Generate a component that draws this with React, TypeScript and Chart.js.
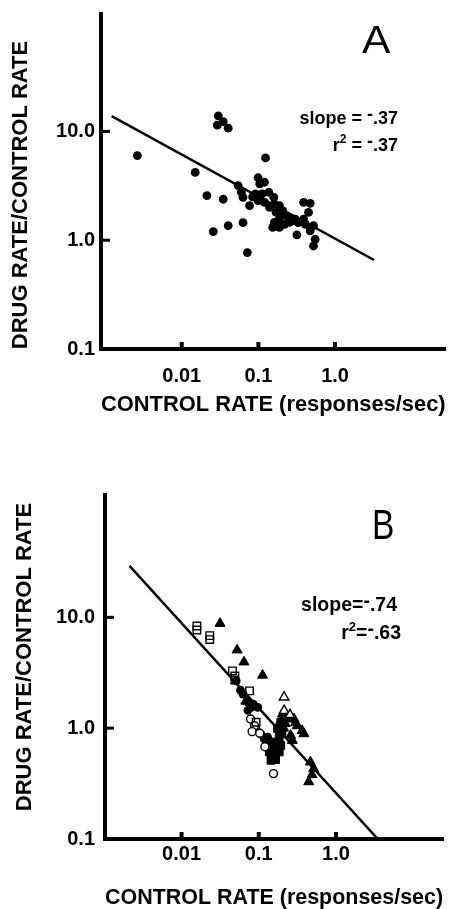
import React, { useEffect, useRef } from 'react';
import { Chart, registerables } from 'chart.js';

Chart.register(...registerables);

const FONT = '"Liberation Sans", Arial, Helvetica, sans-serif';

// ---- shared axis text ----
const xTickValues = [0.01, 0.1, 1];
const xTickLabels = ['0.01', '0.1', '1.0'];
const yTickValues = [0.1, 1, 10];
const yTickLabels = ['0.1', '1.0', '10.0'];
const xAxisTitle = 'CONTROL RATE (responses/sec)';
const yAxisTitle = 'DRUG RATE/CONTROL RATE';

// ---- Panel A data ----
const aControlRate = [
  0.00264, 0.015, 0.0213, 0.0348, 0.0258, 0.0404, 0.063, 0.0718, 0.124,
  0.03, 0.0291, 0.0348, 0.0404, 0.0544, 0.06, 0.063, 0.0769, 0.099, 0.12,
  0.104, 0.092, 0.112, 0.137, 0.159, 0.099, 0.12, 0.162, 0.188, 0.208, 0.17,
  0.248, 0.188, 0.162, 0.154, 0.188, 0.253, 0.22, 0.303, 0.318, 0.389, 0.474,
  0.451, 0.389, 0.41, 0.524, 0.474, 0.551, 0.524, 0.33, 0.14, 0.084, 0.215, 0.27,
];
const aRateRatio = [
  6.0, 4.2, 2.57, 2.38, 1.2, 1.36, 1.45, 0.77, 5.7,
  13.9, 11.4, 12.3, 10.7, 3.18, 2.76, 2.48, 2.08, 3.75, 3.41,
  3.3, 2.67, 2.67, 2.76, 2.48, 2.31, 2.23, 2.15, 2.08, 1.87, 1.8,
  1.62, 1.56, 1.46, 1.31, 1.31, 1.46, 1.4, 1.56, 1.12, 2.23, 2.18,
  1.8, 1.56, 1.4, 1.36, 1.22, 1.02, 0.885, 1.45, 2.0, 2.5, 1.7, 1.5,
];
const aFitControl = [0.00122, 3.23];
const aFitRatio = [13.8, 0.658];
const aSlope = '.37';
const aR2 = '.37';

// ---- Panel B data ----
const bOpenSquareX = [0.0158, 0.0158, 0.0232, 0.0232, 0.0456, 0.049, 0.049, 0.076, 0.0924];
const bOpenSquareY = [8.36, 7.69, 6.84, 6.3, 3.29, 2.96, 2.72, 2.17, 1.13];
const bFilledTriangleX = [
  0.0315, 0.0524, 0.0643, 0.112, 0.203, 0.234, 0.193, 0.286, 0.315, 0.365,
  0.384, 0.259, 0.272, 0.21, 0.466, 0.514, 0.444, 0.49, 0.068, 0.22, 0.3,
];
const bFilledTriangleY = [
  8.8, 5.07, 3.95, 3.0, 1.34, 1.21, 1.17, 1.21, 1.05, 0.95,
  0.89, 0.86, 0.774, 1.0, 0.495, 0.432, 0.328, 0.38, 1.75, 1.1, 1.12,
];
const bOpenTriangleX = [0.213, 0.213, 0.254];
const bOpenTriangleY = [1.9, 1.44, 1.32];
const bOpenCircleX = [0.0783, 0.0881, 0.082, 0.103, 0.12, 0.155];
const bOpenCircleY = [1.21, 1.05, 0.93, 0.9, 0.68, 0.389];
const bFilledCircleX = [
  0.051, 0.0625, 0.0724, 0.0798, 0.097, 0.0724, 0.092, 0.107, 0.13, 0.144,
  0.058, 0.085, 0.118, 0.125,
];
const bFilledCircleY = [
  2.67, 2.03, 1.71, 1.54, 1.54, 1.45, 0.99, 0.88, 0.83, 0.75,
  2.2, 1.65, 0.8, 0.72,
];
const bFilledSquareX = [0.137, 0.159, 0.144, 0.184, 0.193, 0.184, 0.175, 0.193, 0.159, 0.165, 0.2, 0.17];
const bFilledSquareY = [0.61, 0.568, 0.513, 0.61, 0.698, 0.83, 0.99, 1.13, 0.65, 0.52, 0.9, 0.75];
const bFitControl = [0.00212, 3.48];
const bFitRatio = [29.1, 0.1];
const bSlope = '.74';
const bR2 = '.63';

type Run = [string, number, number];

function pts(xs: number[], ys: number[]) {
  return xs.map((x, i) => ({ x, y: ys[i] }));
}

function drawRuns(ctx: CanvasRenderingContext2D, runs: Run[], right: number, baseline: number) {
  let total = 0;
  const widths = runs.map(([t, s]) => {
    ctx.font = `bold ${s}px ${FONT}`;
    const w = ctx.measureText(t).width;
    total += w;
    return w;
  });
  let x = right - total;
  ctx.textAlign = 'left';
  ctx.textBaseline = 'alphabetic';
  runs.forEach(([t, s, r], i) => {
    ctx.font = `bold ${s}px ${FONT}`;
    ctx.fillText(t, x, baseline - r);
    x += widths[i];
  });
}

interface PanelSpec {
  height: number;
  xMin: number;
  xMax: number;
  yMin: number;
  yMax: number;
  yAxisWidth: number;
  xAxisHeight: number;
  padTop: number;
  xTickPad: number;
  yTickPad: number;
  xTitlePadBottom: number;
  xTitleSize: number;
  datasets: any[];
  letter: string;
  letterX: number;
  letterBaseline: number;
  letterSize: number;
  letterScaleX: number;
  yTitleX: number;
  yTitleY: number;
  stats: { runs: Run[]; right: number; baseline: number }[];
}

function buildConfig(spec: PanelSpec): any {
  const decor = {
    id: 'decor',
    afterDraw(chart: any) {
      const ctx: CanvasRenderingContext2D = chart.ctx;
      const { left, bottom } = chart.chartArea;
      const xs = chart.scales.x;
      const ys = chart.scales.y;
      ctx.save();
      ctx.strokeStyle = '#000';
      ctx.fillStyle = '#000';
      ctx.lineCap = 'butt';
      // inward tick marks
      ctx.lineWidth = 4;
      for (const v of xTickValues) {
        const px = xs.getPixelForValue(v);
        ctx.beginPath();
        ctx.moveTo(px, bottom);
        ctx.lineTo(px, bottom - 7);
        ctx.stroke();
      }
      ctx.lineWidth = 3;
      for (const v of yTickValues) {
        if (v <= ys.min * 1.0001) continue;
        const py = ys.getPixelForValue(v);
        ctx.beginPath();
        ctx.moveTo(left, py);
        ctx.lineTo(left + 9, py);
        ctx.stroke();
      }
      // y axis title
      ctx.save();
      ctx.translate(spec.yTitleX, spec.yTitleY);
      ctx.rotate(-Math.PI / 2);
      ctx.font = `bold 22px ${FONT}`;
      ctx.textAlign = 'center';
      ctx.textBaseline = 'middle';
      ctx.fillText(yAxisTitle, 0, 0);
      ctx.restore();
      // panel letter
      ctx.save();
      ctx.translate(spec.letterX, spec.letterBaseline);
      ctx.scale(spec.letterScaleX, 1);
      ctx.font = `normal ${spec.letterSize}px ${FONT}`;
      ctx.textAlign = 'left';
      ctx.textBaseline = 'alphabetic';
      ctx.fillText(spec.letter, 0, 0);
      ctx.restore();
      // stats
      for (const s of spec.stats) drawRuns(ctx, s.runs, s.right, s.baseline);
      ctx.restore();
    },
  };

  const tickFont = { family: FONT, size: 20, weight: 'bold' as const };

  return {
    type: 'scatter',
    data: { datasets: spec.datasets },
    options: {
      animation: false,
      responsive: false,
      devicePixelRatio: 1,
      events: [],
      layout: { padding: { top: spec.padTop, right: 2, bottom: 0, left: 0 } },
      plugins: { legend: { display: false }, tooltip: { enabled: false }, title: { display: false } },
      scales: {
        x: {
          type: 'logarithmic',
          position: 'bottom',
          min: spec.xMin,
          max: spec.xMax,
          afterBuildTicks: (s: any) => {
            s.ticks = xTickValues.map((v) => ({ value: v }));
          },
          afterFit: (s: any) => {
            s.height = spec.xAxisHeight;
            s.paddingLeft = 0;
            s.paddingRight = 0;
            s.paddingTop = 0;
            s.paddingBottom = 0;
          },
          grid: { display: false, drawTicks: false },
          border: { display: true, color: '#000', width: 4 },
          ticks: {
            autoSkip: false,
            maxRotation: 0,
            minRotation: 0,
            padding: spec.xTickPad,
            color: '#000',
            font: tickFont,
            callback: (_v: any, i: number) => xTickLabels[i],
          },
          title: {
            display: true,
            text: xAxisTitle,
            color: '#000',
            font: { family: FONT, size: spec.xTitleSize, weight: 'bold', lineHeight: 1 },
            padding: { top: 0, bottom: spec.xTitlePadBottom },
          },
        },
        y: {
          type: 'logarithmic',
          position: 'left',
          min: spec.yMin,
          max: spec.yMax,
          afterBuildTicks: (s: any) => {
            s.ticks = yTickValues.map((v) => ({ value: v }));
          },
          afterFit: (s: any) => {
            s.width = spec.yAxisWidth;
            s.paddingLeft = 0;
            s.paddingRight = 0;
            s.paddingTop = 0;
            s.paddingBottom = 0;
          },
          grid: { display: false, drawTicks: false },
          border: { display: true, color: '#000', width: 4 },
          ticks: {
            autoSkip: false,
            padding: spec.yTickPad,
            color: '#000',
            font: tickFont,
            callback: (_v: any, i: number) => yTickLabels[i],
          },
          title: { display: false },
        },
      },
    },
    plugins: [decor],
  };
}

const fitLine = (data: any[]) => ({
  type: 'line',
  data,
  borderColor: '#000',
  borderWidth: 2.5,
  pointRadius: 0,
  fill: false,
  showLine: true,
  order: 10,
});

const specA: PanelSpec = {
  height: 450,
  xMin: 0.000885,
  xMax: 27.7,
  yMin: 0.1,
  yMax: 120,
  yAxisWidth: 101,
  xAxisHeight: 101,
  padTop: 14,
  xTickPad: 15,
  yTickPad: 6,
  xTitlePadBottom: 34,
  xTitleSize: 22,
  datasets: [
    fitLine(pts(aFitControl, aFitRatio)),
    {
      data: pts(aControlRate, aRateRatio),
      pointStyle: 'circle',
      pointRadius: 4.4,
      backgroundColor: '#000',
      borderColor: '#000',
      borderWidth: 0,
      order: 0,
    },
  ],
  letter: 'A',
  letterX: 362,
  letterBaseline: 53,
  letterSize: 38,
  letterScaleX: 1.12,
  yTitleX: 21,
  yTitleY: 195,
  stats: [
    { runs: [['slope = ', 18, 0], ['-', 18, 4], [aSlope, 18, 0]], right: 398, baseline: 124 },
    { runs: [['r', 18, 0], ['2', 12, 8], [' = ', 18, 0], ['-', 18, 4], [aR2, 18, 0]], right: 398, baseline: 151 },
  ],
};

const specB: PanelSpec = {
  height: 459,
  xMin: 0.00102,
  xMax: 24.4,
  yMin: 0.1,
  yMax: 127,
  yAxisWidth: 105,
  xAxisHeight: 70,
  padTop: 45,
  xTickPad: 3.5,
  yTickPad: 10,
  xTitlePadBottom: 0,
  xTitleSize: 21.5,
  datasets: [
    fitLine(pts(bFitControl, bFitRatio)),
    {
      data: pts(bFilledSquareX, bFilledSquareY),
      pointStyle: 'rect',
      pointRadius: 5.5,
      backgroundColor: '#000',
      borderColor: '#000',
      borderWidth: 1,
      order: 5,
    },
    {
      data: pts(bFilledCircleX, bFilledCircleY),
      pointStyle: 'circle',
      pointRadius: 4.4,
      backgroundColor: '#000',
      borderColor: '#000',
      borderWidth: 0,
      order: 4,
    },
    {
      data: pts(bFilledTriangleX, bFilledTriangleY),
      pointStyle: 'triangle',
      pointRadius: 5.8,
      backgroundColor: '#000',
      borderColor: '#000',
      borderWidth: 1,
      order: 3,
    },
    {
      data: pts(bOpenTriangleX, bOpenTriangleY),
      pointStyle: 'triangle',
      pointRadius: 5.5,
      backgroundColor: '#fff',
      borderColor: '#000',
      borderWidth: 1.4,
      order: 2,
    },
    {
      data: pts(bOpenCircleX, bOpenCircleY),
      pointStyle: 'circle',
      pointRadius: 4,
      backgroundColor: '#fff',
      borderColor: '#000',
      borderWidth: 1.4,
      order: 1,
    },
    {
      data: pts(bOpenSquareX, bOpenSquareY),
      pointStyle: 'rect',
      pointRadius: 5.3,
      backgroundColor: 'rgba(255,255,255,0)',
      borderColor: '#000',
      borderWidth: 1.4,
      order: 0,
    },
  ],
  letter: 'B',
  letterX: 372,
  letterBaseline: 89,
  letterSize: 43,
  letterScaleX: 0.78,
  yTitleX: 25,
  yTitleY: 207,
  stats: [
    { runs: [['slope', 19.5, 0], ['=', 19.5, 0], ['-', 19.5, 4], [bSlope, 19.5, 0]], right: 397, baseline: 161 },
    { runs: [['r', 19.5, 0], ['2', 13, 8], ['=', 19.5, 0], ['-', 19.5, 4], [bR2, 19.5, 0]], right: 401, baseline: 189 },
  ],
};

function Panel({ spec, top }: { spec: PanelSpec; top: number }) {
  const ref = useRef<HTMLCanvasElement>(null);
  useEffect(() => {
    const chart = new Chart(ref.current as HTMLCanvasElement, buildConfig(spec));
    return () => chart.destroy();
  }, [spec]);
  return (
    <canvas
      ref={ref}
      width={450}
      height={spec.height}
      style={{ position: 'absolute', left: 0, top, width: 450, height: spec.height, display: 'block' }}
    />
  );
}

export default function App() {
  return (
    <div style={{ position: 'absolute', left: 0, top: 0, width: 450, height: 909, background: '#fff', overflow: 'hidden' }}>
      <Panel spec={specA} top={0} />
      <Panel spec={specB} top={450} />
    </div>
  );
}
